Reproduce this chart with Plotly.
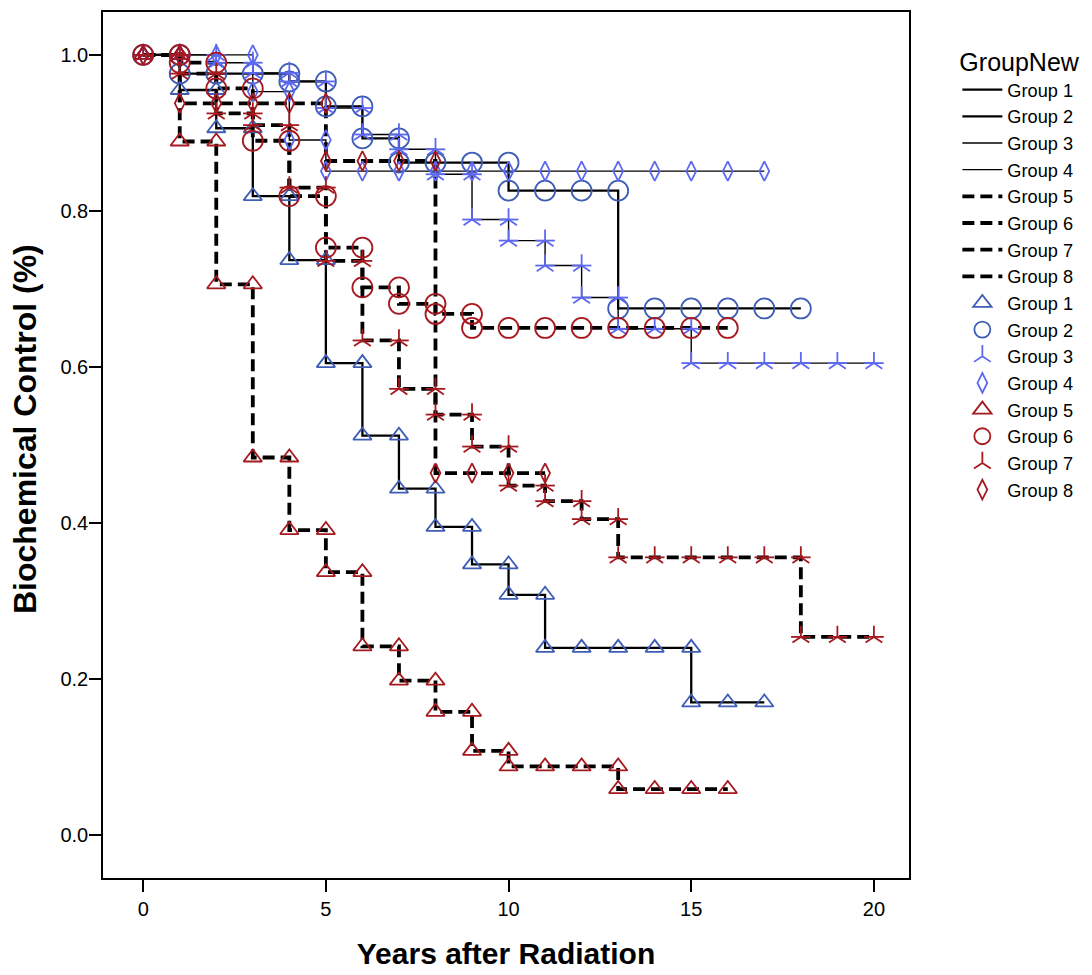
import plotly.graph_objects as go

# ---------------- data ----------------
group_names = ["Group 1", "Group 2", "Group 3", "Group 4",
               "Group 5", "Group 6", "Group 7", "Group 8"]

# event times (years) and survival after each event
g1_times = [1, 2, 3, 4, 5, 6, 7, 8, 9, 10, 11, 15]
g1_surv = [0.955, 0.906, 0.819, 0.737, 0.605, 0.512, 0.444, 0.395, 0.347, 0.308, 0.240, 0.170]
g1_end = 17

g2_times = [1, 4, 5, 6, 7, 10, 13]
g2_surv = [0.976, 0.966, 0.934, 0.893, 0.862, 0.826, 0.675]
g2_end = 18

g3_times = [2, 3, 4, 5, 6, 7, 8, 9, 10, 11, 12, 13, 15]
g3_surv = [0.990, 0.977, 0.966, 0.932, 0.898, 0.879, 0.847, 0.789, 0.762, 0.730, 0.689, 0.649, 0.605]
g3_end = 20

g4_times = [3, 4, 5]
g4_surv = [0.953, 0.891, 0.851]
g4_end = 17

g5_times = [1, 2, 3, 4, 5, 6, 7, 8, 9, 10, 13]
g5_surv = [0.889, 0.706, 0.484, 0.391, 0.337, 0.242, 0.198, 0.158, 0.108, 0.088, 0.059]
g5_end = 16

g6_times = [1, 2, 3, 4, 5, 6, 7, 8, 9]
g6_surv = [0.990, 0.957, 0.890, 0.819, 0.753, 0.702, 0.681, 0.668, 0.650]
g6_end = 16

g7_times = [1, 2, 3, 4, 5, 6, 7, 8, 9, 10, 11, 12, 13, 18]
g7_surv = [0.976, 0.925, 0.910, 0.830, 0.736, 0.634, 0.572, 0.539, 0.498, 0.448, 0.428, 0.405, 0.356, 0.254]
g7_end = 20

g8_times = [1, 5, 8]
g8_surv = [0.938, 0.864, 0.464]
g8_end = 11

# censored observation times (years)
g1_cens = [0, 1, 2, 3, 4, 5, 6, 7, 8, 9, 10, 11, 12, 13, 14, 15, 16, 17]
g2_cens = [0, 1, 2, 3, 4, 5, 6, 7, 8, 9, 10, 11, 12, 13, 14, 15, 16, 17, 18]
g3_cens = [0, 1, 2, 3, 4, 5, 6, 7, 8, 9, 10, 11, 12, 13, 14, 15, 16, 17, 18, 19, 20]
g4_cens = [0, 1, 2, 3, 4, 5, 6, 7, 8, 9, 10, 11, 12, 13, 14, 15, 16, 17]
g5_cens = [0, 1, 2, 3, 4, 5, 6, 7, 8, 9, 10, 11, 12, 13, 14, 15, 16]
g6_cens = [0, 1, 2, 3, 4, 5, 6, 7, 8, 9, 10, 11, 12, 13, 14, 15, 16]
g7_cens = [0, 1, 2, 3, 4, 5, 6, 7, 8, 9, 10, 11, 12, 13, 14, 15, 16, 17, 18, 19, 20]
g8_cens = [0, 1, 2, 3, 4, 5, 6, 7, 8, 9, 10, 11]

x_ticks = [0, 5, 10, 15, 20]
y_ticks = [0.0, 0.2, 0.4, 0.6, 0.8, 1.0]

# ---------------- styling ----------------
DARK_BLUE = "#3f5db5"
LIGHT_BLUE = "#5d68f2"
RED = "#a5191f"
FONT = "Arial, Liberation Sans, sans-serif"

all_times = [g1_times, g2_times, g3_times, g4_times, g5_times, g6_times, g7_times, g8_times]
all_surv = [g1_surv, g2_surv, g3_surv, g4_surv, g5_surv, g6_surv, g7_surv, g8_surv]
all_end = [g1_end, g2_end, g3_end, g4_end, g5_end, g6_end, g7_end, g8_end]
all_cens = [g1_cens, g2_cens, g3_cens, g4_cens, g5_cens, g6_cens, g7_cens, g8_cens]

line_styles = [
    dict(color="black", width=2.3, dash="solid"),
    dict(color="black", width=2.3, dash="solid"),
    dict(color="black", width=1.4, dash="solid"),
    dict(color="black", width=1.4, dash="solid"),
    dict(color="black", width=3.8, dash="12px,6px"),
    dict(color="black", width=3.8, dash="12px,6px"),
    dict(color="black", width=3.8, dash="12px,6px"),
    dict(color="black", width=3.8, dash="12px,6px"),
]
marker_styles = [
    ("triangle-up-open", 16, DARK_BLUE),
    ("circle-open", 20, DARK_BLUE),
    ("star", 14, LIGHT_BLUE),
    ("diamond-tall-open", 14, LIGHT_BLUE),
    ("triangle-up-open", 16, RED),
    ("circle-open", 20, RED),
    ("star", 14, RED),
    ("diamond-tall-open", 14, RED),
]


def step_xy(times, surv, end):
    xs = [0] + list(times) + [end]
    ys = [1.0] + list(surv) + [surv[-1]]
    return xs, ys


def censor_points(times, surv, cens):
    xs, ys = [], []
    for t in cens:
        before, after = 1.0, 1.0
        for ti, si in zip(times, surv):
            if ti < t:
                before = si
            if ti <= t:
                after = si
        xs.append(t)
        ys.append(before)
        if after != before:
            xs.append(t)
            ys.append(after)
    return xs, ys


fig = go.Figure()

# survival step lines
for i in range(8):
    xs, ys = step_xy(all_times[i], all_surv[i], all_end[i])
    fig.add_trace(go.Scatter(
        x=xs, y=ys, mode="lines", line_shape="hv",
        line=line_styles[i], name=group_names[i],
        legendgroup="lines", hoverinfo="skip"))

# censor markers
for i in range(8):
    xs, ys = censor_points(all_times[i], all_surv[i], all_cens[i])
    sym, size, col = marker_styles[i]
    if sym == "star":
        fig.add_trace(go.Scatter(
            x=xs, y=ys, mode="markers", name=group_names[i],
            marker=dict(symbol="y-up-open", size=size, color=col,
                        line=dict(width=1.8, color=col))))
        fig.add_trace(go.Scatter(
            x=xs, y=ys, mode="markers", name=group_names[i], showlegend=False,
            marker=dict(symbol="line-ew-open", size=size, color=col,
                        line=dict(width=1.8, color=col))))
    else:
        fig.add_trace(go.Scatter(
            x=xs, y=ys, mode="markers", name=group_names[i],
            marker=dict(symbol=sym, size=size, color=col,
                        line=dict(width=1.8, color=col))))

fig.update_layout(
    width=1092, height=975,
    margin=dict(l=103, r=180, t=10, b=94),
    paper_bgcolor="white", plot_bgcolor="white",
    font=dict(family=FONT, size=20, color="black"),
    showlegend=True,
    legend=dict(
        title=dict(text="GroupNew", font=dict(size=25, family=FONT)),
        x=1.06, xanchor="left", y=0.969, yanchor="top",
        font=dict(size=18.2, family=FONT),
        tracegroupgap=0, bgcolor="rgba(0,0,0,0)",
        itemwidth=40),
    xaxis=dict(
        range=[-1.1, 20.96], tickvals=x_ticks, ticktext=[str(v) for v in x_ticks],
        showgrid=False, zeroline=False,
        showline=True, linecolor="black", linewidth=1.6, mirror=True,
        ticks="outside", ticklen=12, tickwidth=2, tickcolor="black",
        tickfont=dict(size=20),
        title=dict(text="<b>Years after Radiation</b>", font=dict(size=30), standoff=24)),
    yaxis=dict(
        range=[-0.055, 1.055], tickvals=y_ticks, ticktext=["%.1f" % v for v in y_ticks],
        showgrid=False, zeroline=False,
        showline=True, linecolor="black", linewidth=1.6, mirror=True,
        ticks="outside", ticklen=12, tickwidth=2, tickcolor="black",
        tickfont=dict(size=20), ticklabelstandoff=-3),
    annotations=[dict(
        text="<b>Biochemical Control (%)</b>", textangle=-90,
        xref="paper", yref="paper", x=-0.096, y=0.518,
        xanchor="center", yanchor="middle", showarrow=False,
        font=dict(size=32, family=FONT, color="black"))],
)

fig.write_html("out.html")
